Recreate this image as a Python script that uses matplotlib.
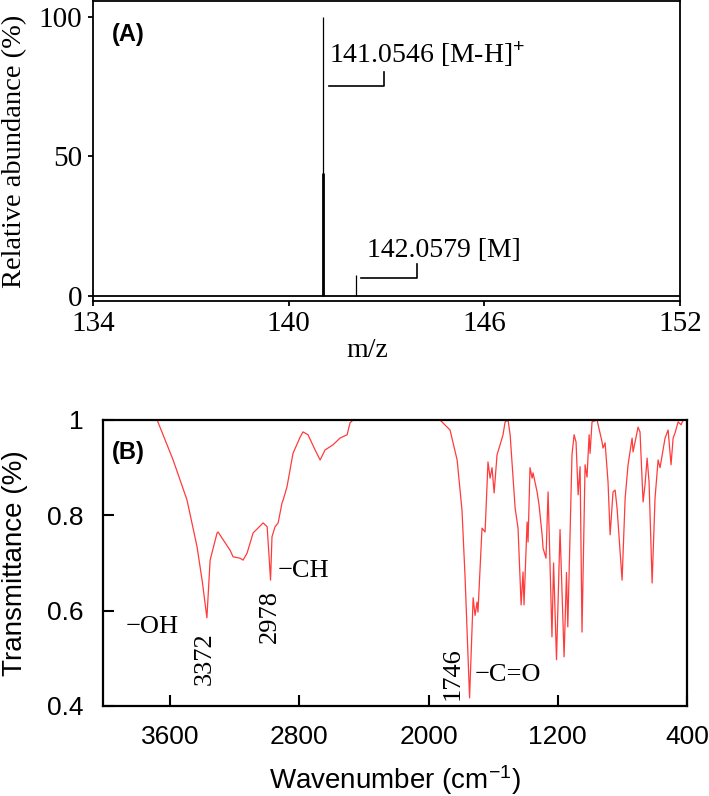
import matplotlib
matplotlib.use('Agg')
import matplotlib.pyplot as plt

plt.rcParams['mathtext.fontset'] = 'custom'
plt.rcParams['mathtext.rm'] = 'Liberation Sans'
plt.rcParams['mathtext.it'] = 'Liberation Sans:italic'

SERIF = 'Liberation Serif'
SANS = 'Liberation Sans'

# (A) mass spectrum
ms_mz = [141.0546, 142.0579]
ms_abundance = [100, 7.5]
ms_main_stub = 44            # thicker lower part of the main peak
ms_labels = ['141.0546 [M-H]$^{+}$', '142.0579 [M]']
ms_xticks = [134, 140, 146, 152]
ms_yticks = [0, 50, 100]

# (B) IR spectrum
ir_wavenumber = [4015, 3680, 3581, 3495, 3433, 3400, 3372, 3352, 3309, 3303,
                 3229, 3210, 3167, 3148, 3123, 3086, 3024, 2999, 2978, 2969,
                 2950, 2931, 2907, 2900, 2876, 2839, 2795, 2777, 2746, 2702,
                 2671, 2641, 2591, 2548, 2504, 2486, 2467, 1929, 1867, 1823,
                 1793, 1774, 1746, 1724, 1712, 1700, 1694, 1669, 1650, 1632,
                 1619, 1607, 1594, 1576, 1557, 1539, 1526, 1508, 1495, 1464,
                 1446, 1427, 1415, 1409, 1390, 1384, 1372, 1359, 1353, 1328,
                 1316, 1297, 1291, 1273, 1260, 1236, 1226, 1208, 1186, 1161,
                 1146, 1138, 1112, 1099, 1087, 1074, 1062, 1050, 1031, 1019,
                 1006, 1000, 988, 957, 926, 920, 907, 889, 876, 858,
                 845, 833, 802, 783, 765, 740, 734, 703, 691, 672,
                 660, 647, 635, 616, 598, 579, 567, 536, 517, 499,
                 486, 474, 455, 437, 424, 400]
ir_transmittance = [1.0, 1.0, 0.916, 0.832, 0.734, 0.66, 0.585, 0.706, 0.763, 0.765,
                    0.727, 0.713, 0.71, 0.706, 0.721, 0.763, 0.784, 0.776, 0.664, 0.755,
                    0.776, 0.784, 0.826, 0.832, 0.86, 0.93, 0.964, 0.975, 0.969, 0.937,
                    0.916, 0.937, 0.948, 0.962, 0.969, 0.994, 1.0, 1.0, 0.979, 0.916,
                    0.811, 0.671, 0.417, 0.627, 0.59, 0.618, 0.597, 0.773, 0.765, 0.912,
                    0.878, 0.9, 0.847, 0.927, 0.948, 0.969, 0.996, 1.0, 0.969, 0.815,
                    0.773, 0.612, 0.681, 0.612, 0.786, 0.744, 0.9, 0.878, 0.889, 0.849,
                    0.822, 0.759, 0.731, 0.71, 0.849, 0.545, 0.70, 0.497, 0.77, 0.503,
                    0.68, 0.566, 0.927, 0.969, 0.954, 0.843, 0.902, 0.555, 0.906, 0.88,
                    0.969, 0.93, 0.996, 1.0, 0.954, 0.941, 0.952, 0.87, 0.759, 0.849,
                    0.853, 0.815, 0.664, 0.836, 0.906, 0.962, 0.933, 0.985, 0.975, 0.828,
                    0.864, 0.92, 0.87, 0.658, 0.836, 0.916, 0.9, 0.962, 0.979, 0.906,
                    0.962, 0.973, 0.996, 0.99, 1.0, 1.0]
ir_xticks = [3600, 2800, 2000, 1200, 400]
ir_yticks = [0.4, 0.6, 0.8, 1.0]
ir_yticklabels = ['0.4', '0.6', '0.8', '1']

fig = plt.figure(figsize=(7.09, 7.96), dpi=100)

# ---------------- panel A ----------------
ax1 = fig.add_axes([0.131, 0.622, 0.828, 0.3765])
ax1.axhline(0, color='black', lw=1.3)
ax1.vlines(ms_mz, 0, ms_abundance, color='black', lw=0.9)
ax1.vlines(ms_mz[0], 0, ms_main_stub, color='black', lw=2.0)
ax1.set_xlim(134, 152)
ax1.set_ylim(-1.8, 105.7)
ax1.set_xticks(ms_xticks)
ax1.set_yticks(ms_yticks)
for s in ax1.spines.values():
    s.set_linewidth(1.3)
ax1.tick_params(direction='out', length=3.5, width=1.3, pad=4,
                labelsize=21)
for lab in ax1.get_xticklabels() + ax1.get_yticklabels():
    lab.set_fontfamily(SERIF)
ax1.set_xlabel('m/z', fontsize=20, fontfamily=SERIF)
ax1.xaxis.set_label_coords(0.468, -0.125)
ax1.set_ylabel('Relative abundance (%)', fontsize=20.5, fontfamily=SERIF)
ax1.yaxis.set_label_coords(-0.112, 0.5)
ax1.text(0.032, 0.89, '(A)', transform=ax1.transAxes, fontsize=17,
         fontweight='bold', fontfamily=SANS, va='center')

# peak labels with bracket leaders
ax1.text(141.24, 83.5, ms_labels[0], fontsize=20, fontfamily=SERIF,
         va='baseline')
ax1.plot([141.24, 142.93, 142.93], [75.3, 75.3, 80.3], color='black', lw=1.2)
ax1.text(142.41, 14.0, ms_labels[1], fontsize=20, fontfamily=SERIF,
         va='baseline')
ax1.plot([142.23, 143.95, 143.95], [6.4, 6.4, 11.5], color='black', lw=1.2)

# ---------------- panel B ----------------
ax2 = fig.add_axes([0.1453, 0.1131, 0.8237, 0.3593])
ax2.plot(ir_wavenumber, ir_transmittance, color='#ff3b3b', lw=0.9)
ax2.set_xlim(4015, 400)
ax2.set_ylim(0.4, 1.0)
ax2.set_xticks(ir_xticks)
ax2.set_yticks(ir_yticks)
ax2.set_yticklabels(ir_yticklabels)
for s in ax2.spines.values():
    s.set_linewidth(1.6)
ax2.tick_params(direction='in', length=8, width=1.5, pad=14, labelsize=19)
for lab in ax2.get_xticklabels() + ax2.get_yticklabels():
    lab.set_fontfamily(SANS)
ax2.set_xlabel('Wavenumber (cm$^{\u2212 1}$)', fontsize=20, fontfamily=SANS)
ax2.xaxis.set_label_coords(0.5, -0.2)
ax2.set_ylabel('Transmittance (%)', fontsize=20, fontfamily=SANS)
ax2.yaxis.set_label_coords(-0.128, 0.5)
ax2.text(0.015, 0.888, '(B)', transform=ax2.transAxes, fontsize=17,
         fontweight='bold', fontfamily=SANS, va='center')

ann = dict(fontsize=19, fontfamily=SERIF)
ax2.text(3872, 0.566, '\u2212OH', ha='left', va='center', **ann)
ax2.text(3383, 0.555, '3372', rotation=90, ha='center', va='top', **ann)
ax2.text(2981, 0.643, '2978', rotation=90, ha='center', va='top', **ann)
ax2.text(2931, 0.683, '\u2212CH', ha='left', va='center', **ann)
ax2.text(1848, 0.524, '1746', rotation=90, ha='center', va='top', **ann)
ax2.text(1712, 0.465, '\u2212C=O', ha='left', va='center', **ann)

fig.savefig('out.png', dpi=100)
